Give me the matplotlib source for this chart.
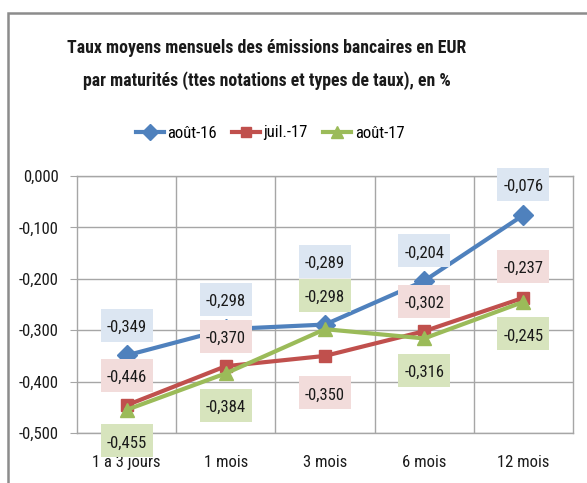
import matplotlib
matplotlib.use("Agg")
import matplotlib.pyplot as plt
from matplotlib import font_manager
from matplotlib.patches import Rectangle
from matplotlib.transforms import ScaledTranslation

available = {f.name for f in font_manager.fontManager.ttflist}
FONT = "DejaVu Sans"
for cand in ["Liberation Sans Narrow", "DejaVu Sans Condensed", "Roboto Condensed",
             "Open Sans Condensed", "Liberation Sans"]:
    if cand in available:
        FONT = cand
        break
NARROW = FONT in ("Liberation Sans Narrow", "DejaVu Sans Condensed",
                  "Roboto Condensed", "Open Sans Condensed")
plt.rcParams['font.family'] = [FONT, 'DejaVu Sans']
FS = 12 if NARROW else 11

categories = ["1 à 3 jours", "1 mois", "3 mois", "6 mois", "12 mois"]
aout16 = [-0.349, -0.298, -0.289, -0.204, -0.076]
juil17 = [-0.446, -0.370, -0.350, -0.302, -0.237]
aout17 = [-0.455, -0.384, -0.298, -0.316, -0.245]

# label box offsets in pixels (positive = above the point)
off16 = [30, 30, 63, 30, 31]
off_j17 = [30, 30, -37, 30, 31]
off_a17 = [-31, -32, 34, -32, -32]

BLUE = "#4F81BD"
RED = "#C0504D"
GREEN = "#9BBB59"
BLUE_BG = "#DCE6F2"
RED_BG = "#F2DCDB"
GREEN_BG = "#D7E4BD"
GRID = "#A6A6A6"
TXT = "#1a1a1a"

W, H = 587, 483
fig = plt.figure(figsize=(W / 100, H / 100), dpi=100)
fig.patch.set_facecolor("white")

# outer chart border
fig.patches.append(Rectangle((8 / W, -0.1), 1.2, 1 - 13 / H + 0.1,
                             transform=fig.transFigure, fill=False,
                             edgecolor="#8C8C8C", linewidth=1.8))

ax = fig.add_axes([77 / W, 1 - 433 / H, (573 - 77) / W, (433 - 176) / H])
x = list(range(len(categories)))

series = [
    ("août-16", aout16, off16, BLUE, BLUE_BG, "D", 10),
    ("juil.-17", juil17, off_j17, RED, RED_BG, "s", 8.5),
    ("août-17", aout17, off_a17, GREEN, GREEN_BG, "^", 10),
]

BW, BH = 0.52, 0.33   # label box size, inches
for name, vals, offs, col, bg, mk, ms in series:
    ax.plot(x, vals, color=col, linewidth=3, marker=mk, markersize=ms,
            label=name, zorder=3)
    for xi, v, o in zip(x, vals, offs):
        tr = fig.dpi_scale_trans + ScaledTranslation(xi, v, ax.transData)
        ax.add_patch(Rectangle((-BW / 2, o / 100 - BH / 2), BW, BH,
                               transform=tr, fc=bg, ec="none", zorder=4,
                               clip_on=False))
        ax.annotate(f"{v:.3f}".replace(".", ","), (xi, v),
                    xytext=(0, (o - 2) * 0.72), textcoords="offset points",
                    ha="center", va="center", fontsize=FS, color=TXT,
                    zorder=5, annotation_clip=False)

ax.set_xlim(-0.5, 4.5)
ax.set_ylim(-0.5, 0.0)
ax.set_yticks([0.0, -0.1, -0.2, -0.3, -0.4, -0.5])
ax.set_yticklabels(["0,000", "-0,100", "-0,200", "-0,300", "-0,400", "-0,500"],
                   fontsize=FS, color=TXT)
ax.set_xticks(x)
ax.set_xticklabels(categories, fontsize=FS, color=TXT)
ax.set_xticks([0.5, 1.5, 2.5, 3.5], minor=True)
ax.tick_params(axis="x", which="both", length=0, pad=16)
ax.tick_params(axis="y", length=5, color=GRID, pad=8)
ax.grid(axis="y", color=GRID, linewidth=1)
ax.grid(axis="x", which="minor", color=GRID, linewidth=1)
ax.set_axisbelow(True)
for sp in ax.spines.values():
    sp.set_color(GRID)
    sp.set_linewidth(1)

t1 = fig.text(267 / W, 1 - 48 / H, "Taux moyens mensuels des émissions bancaires en EUR",
              ha="center", va="center", fontsize=14, fontweight="bold", color=TXT)
t2 = fig.text(267 / W, 1 - 81 / H, "par maturités (ttes notations et types de taux), en %",
              ha="center", va="center", fontsize=14, fontweight="bold", color=TXT)
# fit title width to the reference (~400 px for the first line)
r = fig.canvas.get_renderer()
w1 = t1.get_window_extent(r).width
scale = 402 / w1
t1.set_fontsize(14 * scale)
t2.set_fontsize(14 * scale)

fig.legend(loc="center", bbox_to_anchor=(270 / W, 1 - 133 / H), ncol=3,
           frameon=False, fontsize=FS, handlelength=1.7, handletextpad=0.2,
           columnspacing=0.9, markerscale=0.85)

fig.savefig("out.png", dpi=100)
